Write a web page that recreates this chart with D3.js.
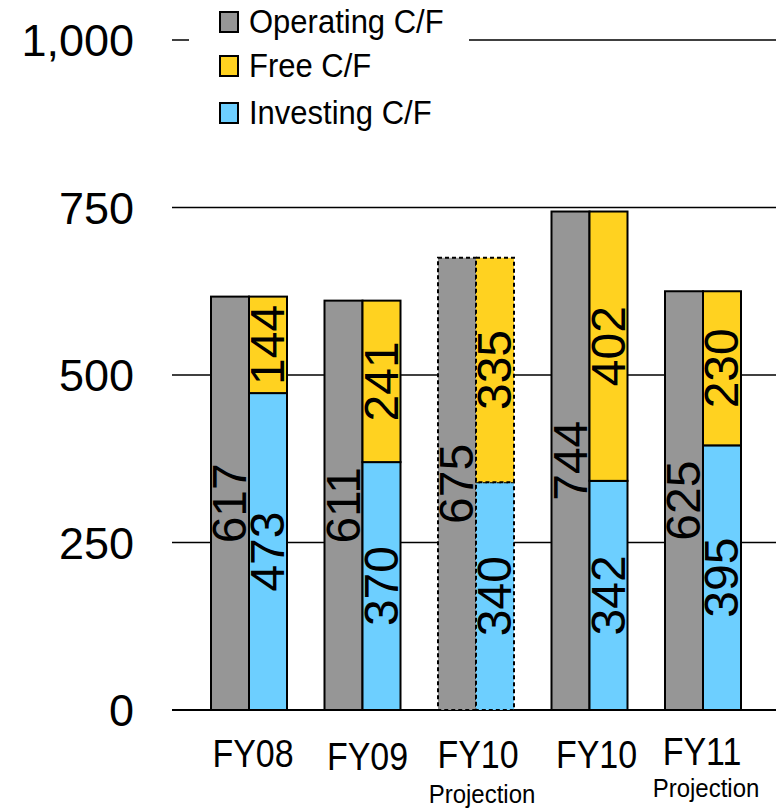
<!DOCTYPE html>
<html>
<head>
<meta charset="utf-8">
<script src="https://cdn.jsdelivr.net/npm/d3@7"></script>
<style>
  html, body { margin: 0; padding: 0; background: #fff; }
  svg { display: block; font-family: "Liberation Sans", Arial, sans-serif; }
</style>
</head>
<body>
<svg id="chart" width="776" height="809"></svg>
<script>
// Cash flow by fiscal year
const categories = ["FY08", "FY09", "FY10", "FY10", "FY11"];
const subLabels = ["", "", "Projection", "", "Projection"];
const dashedOutline = [false, false, true, false, false];
const operatingCF = [617, 611, 675, 744, 625];
const freeCF = [144, 241, 335, 402, 230];
const investingCF = [473, 370, 340, 342, 395];
const yTicks = [0, 250, 500, 750, 1000];
const seriesNames = ["Operating C/F", "Free C/F", "Investing C/F"];

const colors = { operating: "#969696", free: "#FFD220", investing: "#6DCFFF" };

const svg = d3.select("#chart");

const x = d3.scalePoint()
  .domain(d3.range(categories.length))
  .range([192.25, 759.75])
  .padding(0.5);

const y = d3.scaleLinear().domain([0, 1000]).range([710, 40]);

const barW = 38;
const gridLeft = 172, gridRight = 776;

// horizontal grid lines
svg.append("g")
  .selectAll("line")
  .data(yTicks)
  .join("line")
  .attr("x1", gridLeft)
  .attr("x2", gridRight)
  .attr("y1", d => y(d))
  .attr("y2", d => y(d))
  .attr("stroke", "#000")
  .attr("stroke-width", d => d === 0 ? 2.2 : 1.6);

// y axis tick labels
svg.append("g")
  .selectAll("text")
  .data(yTicks)
  .join("text")
  .attr("x", 134)
  .attr("y", d => y(d))
  .attr("dy", "0.36em")
  .attr("text-anchor", "end")
  .attr("font-size", 45)
  .attr("fill", "#000")
  .text(d => d3.format(",")(d));

// bars
const rows = categories.map((c, i) => ({
  i, op: operatingCF[i], free: freeCF[i], inv: investingCF[i], dashed: dashedOutline[i]
}));

const bars = svg.append("g");
rows.forEach(r => {
  const cx = x(r.i);
  const dash = r.dashed ? "4,3" : null;
  // operating (left)
  bars.append("rect")
    .attr("x", cx - barW).attr("width", barW)
    .attr("y", y(r.op)).attr("height", y(0) - y(r.op))
    .attr("fill", colors.operating)
    .attr("stroke", "#000").attr("stroke-width", 2)
    .attr("stroke-dasharray", dash);
  // investing (right, bottom)
  bars.append("rect")
    .attr("x", cx).attr("width", barW)
    .attr("y", y(r.inv)).attr("height", y(0) - y(r.inv))
    .attr("fill", colors.investing)
    .attr("stroke", "#000").attr("stroke-width", 2)
    .attr("stroke-dasharray", dash);
  // free (right, stacked on investing)
  bars.append("rect")
    .attr("x", cx).attr("width", barW)
    .attr("y", y(r.inv + r.free)).attr("height", y(r.inv) - y(r.inv + r.free))
    .attr("fill", colors.free)
    .attr("stroke", "#000").attr("stroke-width", 2)
    .attr("stroke-dasharray", dash);
});

// rotated value labels
const labels = svg.append("g")
  .attr("font-size", 48)
  .attr("fill", "#000")
  .attr("text-anchor", "middle");

function vLabel(px, py, txt) {
  labels.append("text")
    .attr("transform", `translate(${px},${py}) rotate(-90)`)
    .attr("dy", "0.36em")
    .text(txt);
}

rows.forEach(r => {
  const cx = x(r.i);
  vLabel(cx - barW / 2 - 1, (y(0) + y(r.op)) / 2, r.op);
  vLabel(cx + barW / 2 - 1, (y(0) + y(r.inv)) / 2, r.inv);
  vLabel(cx + barW / 2 - 1, (y(r.inv) + y(r.inv + r.free)) / 2, r.free);
});

// category labels (slightly tall lettering)
const catShift = [4, 5, 2, 7, -1];
const catBase = [767, 770, 768, 768, 765];
const subShift = [0, 0, 6, 0, 3];
const subBase = [0, 0, 803, 0, 797];
const cat = svg.append("g").attr("text-anchor", "middle").attr("fill", "#000");
categories.forEach((c, i) => {
  cat.append("text")
    .attr("transform", `translate(${x(i) + catShift[i]},${catBase[i]}) scale(1,1.12)`)
    .attr("font-size", 34)
    .text(c);
  if (subLabels[i]) {
    cat.append("text")
      .attr("transform", `translate(${x(i) + subShift[i]},${subBase[i]}) scale(1,1.1)`)
      .attr("font-size", 24)
      .text(subLabels[i]);
  }
});

// legend, on a white panel over the top grid line
const legend = svg.append("g");
legend.append("rect")
  .attr("x", 189).attr("y", 0).attr("width", 280).attr("height", 135)
  .attr("fill", "#fff");

const legendColors = [colors.operating, colors.free, colors.investing];
const legendY = [22, 66, 113];
seriesNames.forEach((name, i) => {
  legend.append("rect")
    .attr("x", 220).attr("y", legendY[i] - 10)
    .attr("width", 18).attr("height", 20)
    .attr("fill", legendColors[i])
    .attr("stroke", "#000").attr("stroke-width", 2);
  legend.append("text")
    .attr("transform", `translate(249,${legendY[i] + 11}) scale(1,1.1)`)
    .attr("font-size", 31)
    .attr("fill", "#000")
    .text(name);
});
</script>
</body>
</html>
